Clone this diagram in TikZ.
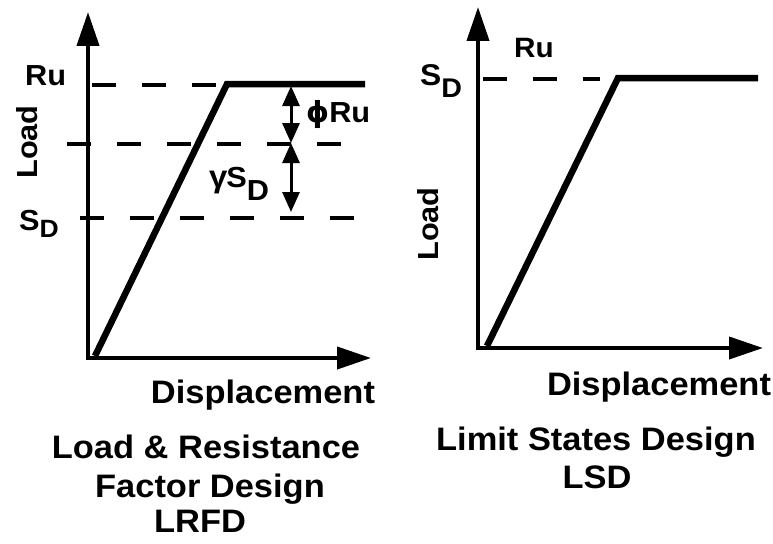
\documentclass[tikz,border=0pt]{standalone}
\usepackage{fontspec}
\setmainfont{Liberation Sans}[FakeStretch=1.06]
\newfontfamily\greekfont{DejaVu Sans}
\usetikzlibrary{arrows.meta}
\begin{document}
\begin{tikzpicture}[x=1pt,y=-1pt,
  axis/.style={line width=4pt, -{Triangle[length=34pt,width=22pt]}},
  curve/.style={line width=6.5pt, line join=miter},
  dashline/.style={line width=4pt, dash pattern=on 24pt off 26pt},
  dim/.style={line width=3pt, {Triangle[length=20pt,width=17pt]}-{Triangle[length=20pt,width=17pt]}},
  lbl/.style={font=\bfseries\fontsize{29}{29}\selectfont, inner sep=0pt},
  big/.style={font=\bfseries\fontsize{32.5}{37}\selectfont, inner sep=0pt, anchor=base},
]
\path[use as bounding box] (0,0) rectangle (773,543);

% ---------- left chart ----------
\coordinate (Lo) at (88,358);
\coordinate (Lytip) at (88,12);
\coordinate (Lxtip) at (371,358);
\draw[axis] (88,360) -- (Lytip);
\draw[axis] (86,358) -- (Lxtip);

\coordinate (Lc0) at (95,356);
\coordinate (Lc1) at (227,84);
\coordinate (Lc2) at (365,84);
\draw[curve] (Lc0) -- (Lc1) -- (Lc2);

\coordinate (LRa) at (92,85);   \coordinate (LRb) at (227,85);
\coordinate (LMa) at (67,144);  \coordinate (LMb) at (342,144);
\coordinate (LSa) at (80,218);  \coordinate (LSb) at (354,218);
\draw[dashline] (LRa) -- (LRb);
\draw[dashline] (LMa) -- (LMb);
\draw[dashline] (LSa) -- (LSb);

\coordinate (Da) at (291,86);
\coordinate (Db) at (291,143);
\coordinate (Dc) at (291,212);
\draw[dim] (Da) -- (Db);
\draw[dim] (Db) -- (Dc);

\node[lbl, anchor=base west] (LRu) at (25,85) {Ru};
\node[lbl, anchor=base, rotate=90] (LLoad) at (37,142) {Load};
\node[lbl, anchor=base west] (LSD) at (19,230) {S\raisebox{-7pt}{\fontsize{25}{25}\selectfont D}};
\node[lbl, anchor=base west] (phiRu) at (306,122) {{\greekfont\bfseries ϕ}Ru};
\node[lbl, anchor=base west] (gSD) at (209,187) {{\fontsize{31}{31}\selectfont γ}\kern-1pt S\raisebox{-13pt}{D}};

\node[big] (LDisp) at (263,403) {Displacement};
\node[big] (T1) at (206,458) {Load \& Resistance};
\node[big] (T2) at (210,497) {Factor Design};
\node[big] (T3) at (200,532) {LRFD};

% ---------- right chart ----------
\coordinate (Ro) at (478,348);
\coordinate (Rytip) at (478,7);
\coordinate (Rxtip) at (763,348);
\draw[axis] (478,350) -- (Rytip);
\draw[axis] (476,348) -- (Rxtip);

\coordinate (Rc0) at (487,346);
\coordinate (Rc1) at (618,78);
\coordinate (Rc2) at (758,78);
\draw[curve] (Rc0) -- (Rc1) -- (Rc2);

\coordinate (RSa) at (483,79);  \coordinate (RSb) at (600,79);
\draw[dashline] (RSa) -- (RSb);

\node[lbl, anchor=base west, font=\bfseries\fontsize{28}{28}\selectfont] (RRu) at (514,58) {Ru};
\node[lbl, anchor=base west, font=\bfseries\fontsize{30}{30}\selectfont] (RSD) at (420,85) {S\raisebox{-12pt}{\fontsize{27}{27}\selectfont D}};
\node[lbl, anchor=base, rotate=90] (RLoad) at (438,224) {Load};

\node[big] (RDisp) at (659,395) {Displacement};
\node[big] (T4) at (596,450) {Limit States Design};
\node[big] (T5) at (597,488) {LSD};
\end{tikzpicture}
\end{document}
